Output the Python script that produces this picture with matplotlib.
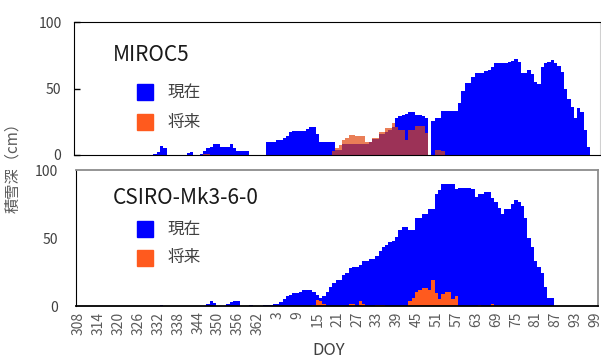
import numpy as np
import matplotlib
matplotlib.use("Agg")
import matplotlib.pyplot as plt
from matplotlib.patches import Rectangle

plt.rcParams['font.family'] = ['Noto Sans CJK JP', 'DejaVu Sans']

# Day of year: 308..365, then 1..99 of the next year
doy = list(range(308, 366)) + list(range(1, 100))
tick_step = 6

# Snow depth (cm), MIROC5
miroc_now = ([0] * 23 + [1, 2, 7, 5, 0, 0, 0, 0, 0, 0, 1.5, 2, 0, 0, 1, 3, 5,
             6, 8, 8, 6, 6, 6, 8, 5, 3, 3,
             3, 3, 0, 0, 0, 0, 0, 9.5, 9.5, 10,
             11, 11, 12.5, 14, 17.5, 18, 18, 18, 18, 19.5,
             21, 21, 16, 10, 9.5, 9.5, 10, 10, 3.8, 3.8,
             8, 8, 8, 8, 8, 8, 8, 8, 9.5, 11.8,
             11.8, 16, 16, 17, 19, 21, 28, 29, 30, 31,
             32.5, 32.5, 30, 30, 29, 28, 0, 25.5, 27.5, 28,
             33, 33, 33, 33, 33, 39, 48, 54, 54, 58.5,
             61.4, 61.4, 61.4, 63, 64, 66, 69, 69, 69, 69,
             70, 71, 72, 70, 62, 62, 64, 61, 55, 53.5,
             66, 69.4, 70, 71.4, 69.4, 67, 62.6, 50, 42, 36,
             27.5, 35, 32, 18.8, 6.3, 0, 0])
miroc_fut = ([0] * 38 + [1, 1] + [0] * 37 +
             [3, 5.5, 7.5,
              11, 12.5, 15, 15, 14.5, 14.5, 14.5, 10, 10, 12.5,
              12.5, 17.5, 17.5, 20, 20, 24, 21, 19, 19, 11,
              19, 19, 21.8, 21.8, 21.8, 16.5, 0, 0, 3.5, 3.5,
              3] + [0] * 46)

# Snow depth (cm), CSIRO-Mk3-6-0
csiro_now = ([0] * 25 + [0.5] + [0] * 13 + [1.2,
             4, 2.2, 0, 0, 0, 1.2, 2.7, 3.7, 3.7, 0,
             0, 0, 0.7, 0, 0, 0, 0.5, 0.5, 0.5, 1.5,
             1.5, 2.7, 5, 7, 8, 9.3, 9.3, 10.5, 11.8, 11.8,
             11.8, 10.5, 8, 6, 7.3, 10.5, 13.8, 16.7, 19, 19,
             22.8, 24, 28, 29, 29, 30, 33, 33, 34.6, 34.6,
             37, 40.4, 43.6, 44.8, 46.8, 48, 51, 56, 58.3, 58.3,
             56, 56, 64.5, 64.5, 68, 68, 71.3, 71.3, 82, 85.3,
             90, 90, 90, 90, 86, 86.5, 86.5, 86.5, 86.5, 86,
             80.4, 82, 82, 83.6, 83.6, 79.6, 76.7, 71.8, 68, 71.3,
             71.3, 74.8, 78, 76.7, 73.8, 64.5, 50.2, 43.6, 33, 29,
             24, 14.2, 6.1, 6.1] + [0] * 13)
csiro_fut = ([0] * 56 + [0.3, 0.3] + [0] * 13 +
             [0.7, 4.4, 4, 1.5, 0, 0, 0, 0, 0,
              0, 0, 1.5, 1.5, 0, 3.7, 1.2, 0, 0, 0,
              1, 1, 1, 0, 0, 0, 0, 0, 0, 0,
              3.7, 6.1, 10.5, 11.8, 13.5, 13.5, 11.8, 19, 9.3, 5.1,
              8.6, 10.5, 10.5, 5.1, 7.6, 0, 0, 0, 0, 0,
              0, 0.7, 0, 0, 0, 1.2] + [0] * 31)

BLUE = '#0000FF'
ORANGE = '#FF5A1E'
TXT = '#404040'


def add_key(ax, x0, y_now, y_fut, w, h, tx):
    # hand-made legend: coloured square + label
    for yc, col, lab in [(y_now, BLUE, '現在'), (y_fut, ORANGE, '将来')]:
        ax.add_patch(Rectangle((x0, yc - h / 2), w, h, color=col,
                               transform=ax.transAxes, clip_on=False))
        ax.text(tx, yc, lab, transform=ax.transAxes, fontsize=12,
                color=TXT, va='center', ha='left')


x = np.arange(len(doy))

fig = plt.figure(figsize=(6.01, 3.6), dpi=100)
ax1 = fig.add_axes([74 / 601, 205 / 360, 526 / 601, 133 / 360])
ax2 = fig.add_axes([76 / 601, 54 / 360, 522 / 601, 136 / 360])

# top panel: future drawn see-through over present
ax1.bar(x, miroc_now, width=1.0, color=BLUE, linewidth=0, antialiased=False)
ax1.bar(x, miroc_fut, width=1.0, color='#E04810', alpha=0.7, linewidth=0,
        antialiased=False)
ax1.set_xlim(-1.5, -1.5 + 526 / 3.31)

# bottom panel: future drawn solid on top
ax2.bar(x, csiro_now, width=1.0, color=BLUE, linewidth=0, antialiased=False)
ax2.bar(x, csiro_fut, width=1.0, color=ORANGE, linewidth=0, antialiased=False)
ax2.set_xlim(-0.9, -0.9 + 522 / 3.31)

for ax in (ax1, ax2):
    ax.set_ylim(0, 100)
    ax.set_yticks([0, 50, 100])
    ax.tick_params(axis='y', labelsize=10, labelcolor=TXT, pad=9)

ax1.tick_params(axis='y', direction='in', length=4, width=1)
ax1.set_xticks([])
for s in ['left', 'top', 'bottom']:
    ax1.spines[s].set_color('black')
ax1.spines['right'].set_color('#d0d0d0')

ax2.tick_params(axis='y', length=0, pad=13)
ticks = x[::tick_step]
ax2.set_xticks(ticks)
ax2.set_xticklabels([str(doy[i]) for i in ticks], rotation=90,
                    fontsize=10, color='#595959')
ax2.tick_params(axis='x', length=0, pad=4)
ax2.spines['top'].set_color('#8c8c8c')
ax2.spines['right'].set_color('#8c8c8c')
ax2.spines['top'].set_linewidth(1.3)
ax2.spines['right'].set_linewidth(1.3)
ax2.spines['bottom'].set_linewidth(1.3)

ax1.text(0.074, 0.752, 'MIROC5', transform=ax1.transAxes, fontsize=15,
         color='#1a1a1a', va='center', ha='left')
ax2.text(0.071, 0.794, 'CSIRO-Mk3-6-0', transform=ax2.transAxes,
         fontsize=15, color='#1a1a1a', va='center', ha='left')

add_key(ax1, 0.1198, 0.474, 0.248, 16 / 526, 16 / 133, 0.177)
add_key(ax2, 0.117, 0.566, 0.353, 16 / 522, 16 / 136, 0.176)

fig.text(13 / 601, 0.545, '積雪深（cm）', rotation=90, fontsize=11,
         color='#595959', ha='center', va='center')
fig.text(329 / 601, 1 / 360, 'DOY', fontsize=12, color=TXT,
         ha='center', va='bottom')

fig.savefig('out.png', dpi=100)
